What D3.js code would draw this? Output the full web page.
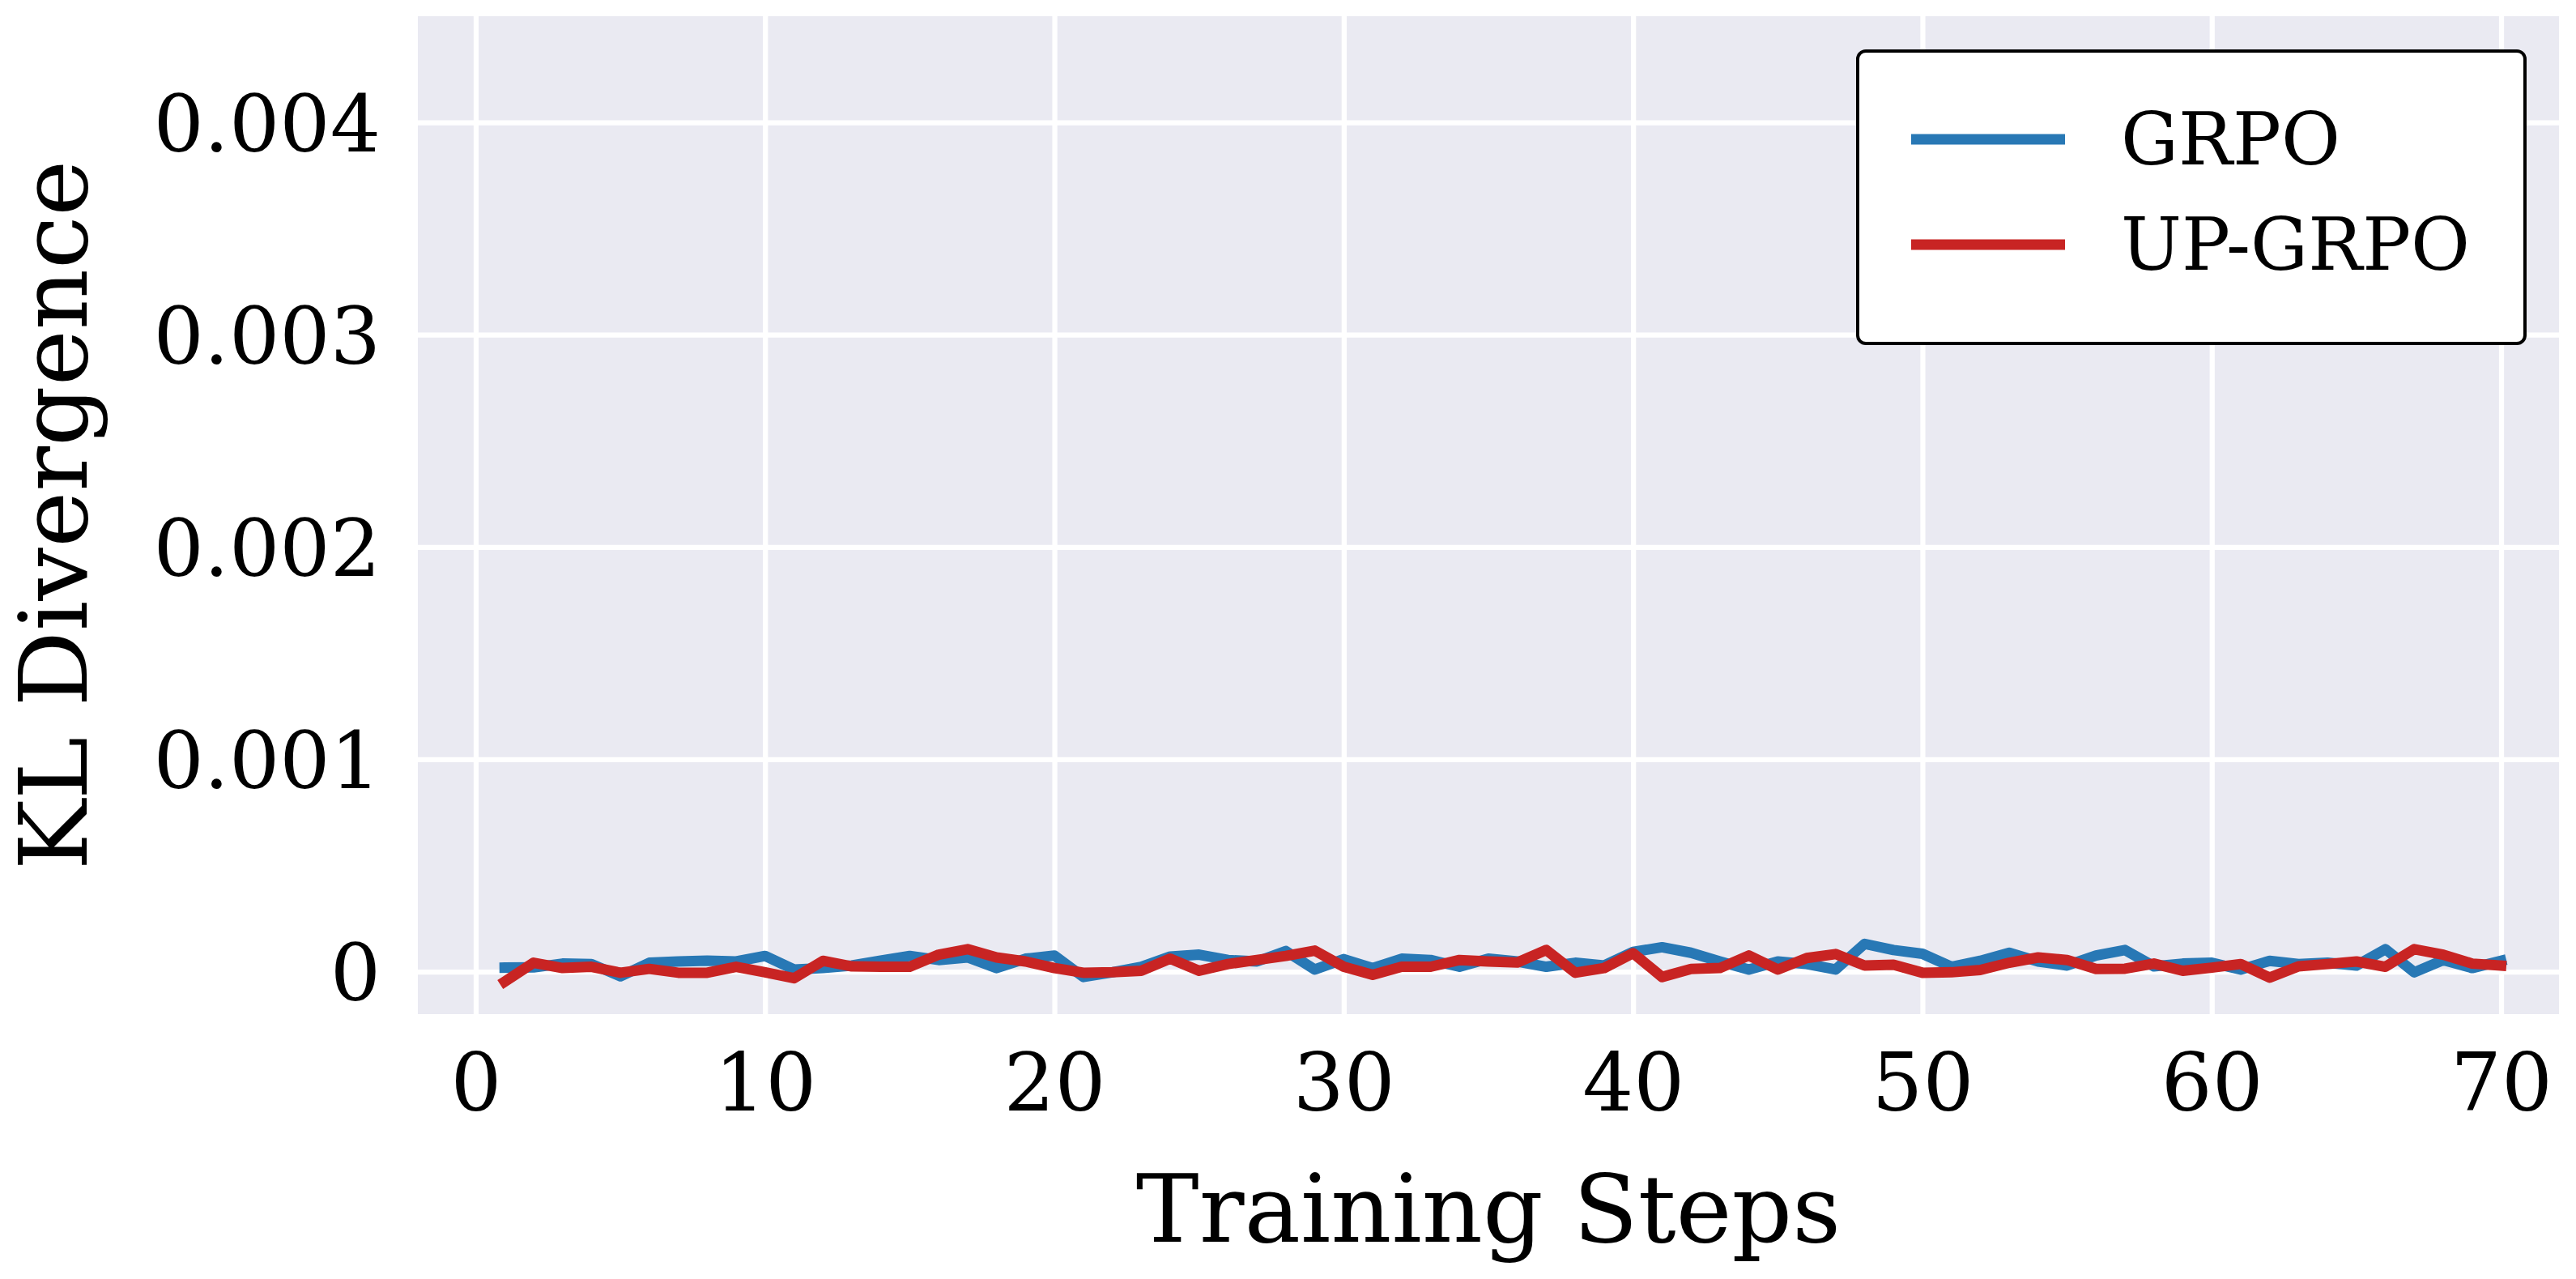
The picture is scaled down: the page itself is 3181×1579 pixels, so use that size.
<!DOCTYPE html>
<html>
<head>
<meta charset="utf-8">
<script src="https://cdn.jsdelivr.net/npm/d3@7"></script>
<style>
  html, body { margin: 0; padding: 0; background: #ffffff; }
  svg { display: block; }
  text { font-family: "DejaVu Serif", serif; fill: #000; }
</style>
</head>
<body>
<svg id="chart" width="3181" height="1579"></svg>
<script>
const steps = d3.range(1, 71);
const grpo = [
  19e-6, 20e-6, 38e-6, 36e-6, -22e-6, 42e-6, 48e-6, 52e-6, 48e-6, 74e-6,
  10e-6, 17e-6, 29e-6, 52e-6, 74e-6, 55e-6, 67e-6, 17e-6, 61e-6, 76e-6,
  -25e-6, -3e-6, 23e-6, 71e-6, 80e-6, 55e-6, 48e-6, 97e-6, 10e-6, 59e-6,
  17e-6, 61e-6, 55e-6, 23e-6, 61e-6, 48e-6, 23e-6, 42e-6, 29e-6, 93e-6,
  115e-6, 89e-6, 48e-6, 10e-6, 48e-6, 36e-6, 10e-6, 131e-6, 102e-6, 84e-6,
  23e-6, 51e-6, 89e-6, 48e-6, 29e-6, 76e-6, 102e-6, 25e-6, 38e-6, 42e-6,
  10e-6, 51e-6, 36e-6, 42e-6, 29e-6, 106e-6, -3e-6, 55e-6, 17e-6, 51e-6
];
const upgrpo = [
  -47e-6, 42e-6, 17e-6, 23e-6, -5e-6, 13e-6, -5e-6, -5e-6, 23e-6, -3e-6,
  -31e-6, 51e-6, 25e-6, 23e-6, 23e-6, 80e-6, 106e-6, 67e-6, 48e-6, 17e-6,
  -5e-6, -3e-6, 4e-6, 61e-6, 4e-6, 36e-6, 55e-6, 74e-6, 99e-6, 23e-6,
  -15e-6, 23e-6, 23e-6, 55e-6, 48e-6, 43e-6, 102e-6, -5e-6, 17e-6, 87e-6,
  -25e-6, 13e-6, 17e-6, 76e-6, 10e-6, 64e-6, 83e-6, 29e-6, 33e-6, -5e-6,
  -3e-6, 8e-6, 42e-6, 67e-6, 55e-6, 13e-6, 14e-6, 38e-6, 4e-6, 19e-6,
  36e-6, -28e-6, 25e-6, 36e-6, 48e-6, 23e-6, 106e-6, 80e-6, 38e-6, 29e-6
];
const xTicks = [0, 10, 20, 30, 40, 50, 60, 70];
const yTicks = [0, 0.001, 0.002, 0.003, 0.004];
const seriesNames = ["GRPO", "UP-GRPO"];
const seriesColors = ["#2878B5", "#C82423"];

const svg = d3.select("#chart");
const plot = { left: 516, right: 3160, top: 20, bottom: 1252 };

const x = d3.scaleLinear().domain([-2, 72]).range([plot.left, plot.right]);
const y = d3.scaleLinear().domain([-0.0002, 0.0045]).range([plot.bottom, plot.top]);

svg.append("rect").attr("width", 3181).attr("height", 1579).attr("fill", "#ffffff");
svg.append("rect")
  .attr("x", plot.left).attr("y", plot.top)
  .attr("width", plot.right - plot.left).attr("height", plot.bottom - plot.top)
  .attr("fill", "#EAEAF2");

// gridlines via axes
const gx = svg.append("g")
  .attr("transform", `translate(0,${plot.bottom})`)
  .call(d3.axisBottom(x).tickValues(xTicks).tickSize(-(plot.bottom - plot.top)).tickFormat(d3.format("d")).tickPadding(0));
gx.select(".domain").remove();
gx.selectAll(".tick line").attr("stroke", "#ffffff").attr("stroke-width", 6.25);
gx.selectAll(".tick text")
  .attr("font-size", 99).attr("font-family", "DejaVu Serif")
  .attr("fill", "#000").attr("y", 119).attr("dy", 0);

const gy = svg.append("g")
  .attr("transform", `translate(${plot.left},0)`)
  .call(d3.axisLeft(y).tickValues(yTicks).tickSize(-(plot.right - plot.left))
    .tickFormat(d => d === 0 ? "0" : d3.format(".3f")(d)).tickPadding(0));
gy.select(".domain").remove();
gy.selectAll(".tick line").attr("stroke", "#ffffff").attr("stroke-width", 6.25);
gy.selectAll(".tick text")
  .attr("font-size", 98).attr("font-family", "DejaVu Serif")
  .attr("fill", "#000").attr("x", -46).attr("dy", "0.36em");

// lines
const line = d3.line().x((d, i) => x(steps[i])).y(d => y(d));
[grpo, upgrpo].forEach((s, k) => {
  svg.append("path")
    .datum(s)
    .attr("d", line)
    .attr("fill", "none")
    .attr("stroke", seriesColors[k])
    .attr("stroke-width", 13)
    .attr("stroke-linejoin", "round")
    .attr("stroke-linecap", "square");
});

// axis labels
svg.append("text")
  .attr("x", (plot.left + plot.right) / 2).attr("y", 1533)
  .attr("text-anchor", "middle").attr("font-size", 116.7)
  .text("Training Steps");
svg.append("text")
  .attr("transform", `translate(107,${(plot.top + plot.bottom) / 2}) rotate(-90)`)
  .attr("text-anchor", "middle").attr("font-size", 116.7)
  .text("KL Divergence");

// legend
const lg = svg.append("g");
lg.append("rect")
  .attr("x", 2294).attr("y", 63).attr("width", 824).attr("height", 361)
  .attr("rx", 10).attr("ry", 10)
  .attr("fill", "#ffffff").attr("stroke", "#000").attr("stroke-width", 4);
seriesNames.forEach((name, k) => {
  const cy = 172 + k * 130;
  lg.append("line")
    .attr("x1", 2360).attr("x2", 2550).attr("y1", cy).attr("y2", cy)
    .attr("stroke", seriesColors[k]).attr("stroke-width", 13);
  lg.append("text")
    .attr("x", 2619).attr("y", cy + 31)
    .attr("font-size", 89)
    .text(name);
});
</script>
</body>
</html>
